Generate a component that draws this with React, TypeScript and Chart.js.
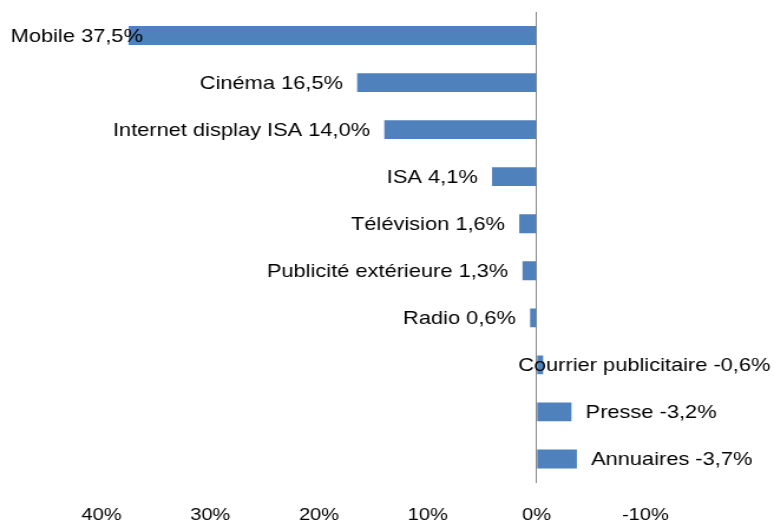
import React, { useEffect, useRef } from "react";
import { Chart, registerables } from "chart.js";

Chart.register(...registerables);

const categories = [
  "Mobile",
  "Cinéma",
  "Internet display ISA",
  "ISA",
  "Télévision",
  "Publicité extérieure",
  "Radio",
  "Courrier publicitaire",
  "Presse",
  "Annuaires",
];
const growthValues = [37.5, 16.5, 14.0, 4.1, 1.6, 1.3, 0.6, -0.6, -3.2, -3.7];
const xTickValues = [40, 30, 20, 10, 0, -10];

const STRETCH = 1.18;
const W = 774;
const H = 524;
const IW = Math.round(W / STRETCH);
const FONT = "'Liberation Sans', Arial, sans-serif";

const fmt = (v: number) => v.toFixed(1).replace(".", ",") + "%";

const labelPlugin = {
  id: "barLabels",
  afterDatasetsDraw(chart: any) {
    const ctx = chart.ctx;
    const meta = chart.getDatasetMeta(0);
    const gap = 12;
    const leftClamp = 9;
    const rightClamp = 653;
    ctx.save();
    ctx.font = `18.5px ${FONT}`;
    ctx.fillStyle = "#000000";
    ctx.textBaseline = "middle";
    meta.data.forEach((bar: any, i: number) => {
      const v = growthValues[i];
      const text = `${categories[i]} ${fmt(v)}`;
      const w = ctx.measureText(text).width;
      const { x, y } = bar.getProps(["x", "y"], true);
      let tx: number;
      if (v >= 0) {
        tx = x - gap - w;
        if (tx < leftClamp) tx = leftClamp;
      } else {
        tx = x + gap;
        if (tx + w > rightClamp) tx = rightClamp - w;
      }
      ctx.textAlign = "left";
      ctx.fillText(text, tx, y + 1);
    });
    ctx.restore();
  },
};

export default function App() {
  const ref = useRef<HTMLCanvasElement | null>(null);
  useEffect(() => {
    document.body.style.margin = "0";
    document.body.style.overflow = "hidden";
    if (!ref.current) return;
    const chart = new Chart(ref.current, {
      type: "bar",
      data: {
        labels: categories,
        datasets: [
          {
            data: growthValues,
            backgroundColor: "#4F81BD",
            borderWidth: 0,
            categoryPercentage: 1,
            barPercentage: 0.4,
          },
        ],
      },
      options: {
        indexAxis: "y",
        animation: false,
        responsive: false,
        devicePixelRatio: 1,
        layout: { padding: { top: 12, bottom: 0, left: 86, right: IW - 547 } },
        plugins: { legend: { display: false }, tooltip: { enabled: false } },
        scales: {
          x: {
            type: "linear",
            reverse: true,
            min: -10,
            max: 40,
            afterBuildTicks: (axis: any) => {
              axis.ticks = xTickValues.map((v) => ({ value: v }));
            },
            afterFit: (axis: any) => {
              axis.height = 41.5;
            },
            border: { display: false },
            grid: {
              display: true,
              drawTicks: false,
              color: (c: any) => (c.tick && c.tick.value === 0 ? "#868686" : "rgba(0,0,0,0)"),
              lineWidth: 1,
            },
            ticks: {
              padding: 23,
              color: "#000000",
              font: { family: FONT, size: 17 },
              maxRotation: 0,
              autoSkip: false,
              callback: (v: any) => `${v}%`,
            },
          },
          y: {
            type: "category",
            display: false,
          },
        },
      },
      plugins: [labelPlugin],
    });
    return () => chart.destroy();
  }, []);
  return (
    <canvas
      ref={ref}
      width={IW}
      height={H}
      style={{ width: `${W}px`, height: `${H}px`, display: "block" }}
    />
  );
}
